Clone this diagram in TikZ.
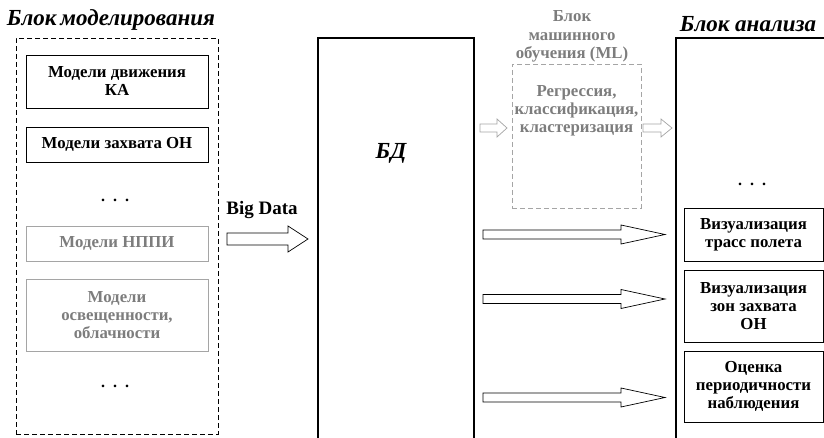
\documentclass[tikz,border=0pt]{standalone}
\usepackage{fontspec}
\setmainfont{Liberation Serif}
\definecolor{txtgray}{RGB}{125,125,125}
\definecolor{linegray}{RGB}{165,165,165}
\newcommand{\hollowarrow}[7]{% x1, x2, yc, shaft half, head half, head start, style
  \draw[#7] (#1,#3-#4) -- (#6,#3-#4) -- (#6,#3-#5) -- (#2,#3) -- (#6,#3+#5) -- (#6,#3+#4) -- (#1,#3+#4) -- cycle;}
\begin{document}
\begin{tikzpicture}[x=1pt,y=-1pt,
  boxtext/.style={font=\fontsize{16.8}{18}\selectfont\bfseries, align=center},
  modbox/.style={draw, line width=0.7pt, minimum width=182, boxtext, inner sep=0pt},
  graybox/.style={modbox, draw=linegray, text=txtgray},
  visbox/.style={draw, line width=0.9pt, minimum width=139, boxtext, inner sep=0pt},
  title/.style={font=\fontsize{23}{25}\selectfont\bfseries\itshape},
  dots/.style={font=\fontsize{16}{18}\selectfont\bfseries},
  longdash/.style={dash pattern=on 5pt off 3pt},
  arrowblack/.style={draw=black, fill=white, line width=0.7pt, line join=miter},
  arrowgray/.style={draw=linegray, fill=white, line width=0.7pt, line join=miter}]
\useasboundingbox (0,0) rectangle (824,438);

% modelling block
\node[title] (tmod) at (111,20) {Блок\,моделирования};
\node[draw, longdash, line width=0.7pt, minimum width=202, minimum height=396, inner sep=0pt] (modblock) at (117,236) {};
\node[modbox, minimum height=53] (m1) at (117,81.5) {Модели движения\\КА};
\node[modbox, minimum height=35] (m2) at (117,144.5) {Модели захвата ОН};
\node[dots] (d1) at (115,200) {.\ \ .\ \ .};
\node[graybox, minimum height=35] (m3) at (117,243.5) {Модели НППИ};
\node[graybox, minimum height=72] (m4) at (117,315) {Модели\\освещенности,\\облачности};
\node[dots] (d2) at (115,386) {.\ \ .\ \ .};

% big data arrow
\node[font=\fontsize{19}{21}\selectfont\bfseries] (bd) at (262,210) {Big Data};
\hollowarrow{227}{308}{239}{6}{13}{288}{arrowblack}

% DB block
\draw[line width=2.2pt] (318,450) -- (318,38) -- (474,38) -- (474,450);
\node[font=\fontsize{23}{25}\selectfont\bfseries\itshape] (db) at (391,153) {БД};

% ML block
\node[font=\fontsize{16.8}{18.5}\selectfont\bfseries, text=txtgray, align=center] (tml) at (572,36.5) {Блок\\машинного\\обучения (ML)};
\node[draw=linegray, longdash, line width=0.7pt, minimum width=129, minimum height=144, inner sep=0pt] (ml) at (576.5,136) {};
\node[boxtext, text=txtgray] (mltext) at (576.5,110.5) {Регрессия,\\классификация,\\кластеризация};
\hollowarrow{480}{507}{128}{4}{9}{497}{arrowgray}
\hollowarrow{643}{672}{128}{4}{9}{661}{arrowgray}

% analysis block
\node[title] (tan) at (748,24) {Блок анализа};
\draw[line width=2.2pt] (676,450) -- (676,38) -- (840,38);
\node[dots] (d3) at (752,184) {.\ \ .\ \ .};
\node[visbox, minimum height=53] (v1) at (753.5,234.5) {Визуализация\\трасс полета};
\node[visbox, minimum height=72] (v2) at (753.5,306) {Визуализация\\зон захвата\\ОН};
\node[visbox, minimum height=71] (v3) at (753.5,386.5) {Оценка\\периодичности\\наблюдения};

\hollowarrow{483}{665}{234.5}{4.5}{9.5}{621}{arrowblack}
\hollowarrow{483}{665}{299}{4.5}{9.5}{621}{arrowblack}
\hollowarrow{483}{665}{397.5}{4.5}{9.5}{621}{arrowblack}
\end{tikzpicture}
\end{document}
